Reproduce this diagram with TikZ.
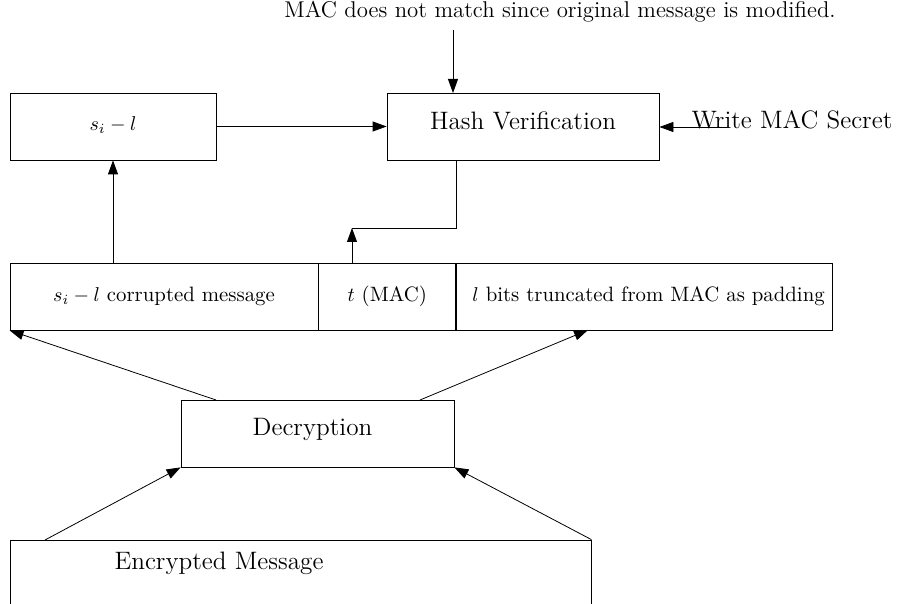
\documentclass[tikz,border=0pt]{standalone}
\usepackage{amsmath}
\usepackage{amssymb}
\usetikzlibrary{arrows.meta}
\usetikzlibrary{positioning}

\tikzset{
  blk/.style={draw, inner sep=0pt, minimum height=33.5pt},
  big/.style={font=\fontsize{12.6}{15}\selectfont},
  arr/.style={-{Triangle[length=7pt,width=5pt]}},
}

\begin{document}
\begin{tikzpicture}[x=.5pt, y=-.5pt, font=\fontsize{10.4}{13}\selectfont]
\useasboundingbox (0,0) rectangle (901,604);

% top row
\node[font=\fontsize{11.4}{13}\selectfont] (note) at (560,12)
  {MAC does not match since original message is modified.};
\node[blk, minimum width=103pt, text depth=3pt] (sil) at (113,126.5) {$s_i-l$};
\node[blk, big, minimum width=136pt, text depth=6pt] (hash) at (523,126.5)
  {Hash Verification};
\node[big] (secret) at (792,120) {Write MAC Secret};

% message row
\node[blk, minimum width=154pt] (corr) at (164,296.5)
  {$s_i-l$ corrupted message};
\node[blk, minimum width=68.5pt, right=0pt of corr] (mac)
  {$t$ (MAC)};
\node[blk, minimum width=188pt, right=0pt of mac] (pad)
  {\hspace{4pt}$l$ bits truncated from MAC as padding};

% decryption
\node[blk, big, minimum width=136.5pt, text depth=6.5pt] (dec) at (317.5,433.5)
  {\hspace{-5pt}Decryption};
\node[draw, inner sep=0pt, minimum width=290.5pt, minimum height=50pt]
  (enc) at (300.5,590) {};
\node[big] (enctext) at (219,563) {Encrypted Message};

\coordinate (hin) at (453,93);
\coordinate (keyin) at (727,127);
\coordinate (hout) at (456,160);
\coordinate (bend) at (352,228);
\coordinate (dl) at (216,400);
\coordinate (dr) at (420,400);
\coordinate (padin) at (588,330);
\coordinate (el) at (45,540);

\draw[arr]
  (note.south -| hin) -- (hin);
\draw[arr]
  (sil.east) -- (hash.west);
\draw[arr]
  (keyin) -- (keyin -| hash.east);
\draw
  (hout) |- (bend);
\draw[arr]
  (bend |- corr.north) -- (bend);
\draw[arr]
  (sil.south |- corr.north) -- (sil.south);

\draw[arr]
  (dl) -- (corr.south west);
\draw[arr]
  (dr) -- (padin);
\draw[arr]
  (el) -- (dec.south west);
\draw[arr]
  (enc.north east) -- (dec.south east);
\end{tikzpicture}
\end{document}
